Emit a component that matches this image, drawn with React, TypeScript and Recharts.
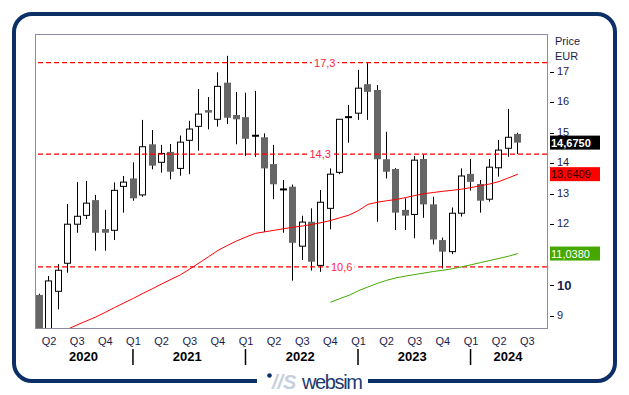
import { ComposedChart, Bar, Line, XAxis, YAxis, ReferenceLine } from "recharts";

// monthly candles, Mar 2020 - Jun 2024
const months = [
  "2020-03", "2020-04", "2020-05", "2020-06", "2020-07", "2020-08", "2020-09", "2020-10", "2020-11", "2020-12",
  "2021-01", "2021-02", "2021-03", "2021-04", "2021-05", "2021-06", "2021-07", "2021-08", "2021-09", "2021-10", "2021-11", "2021-12",
  "2022-01", "2022-02", "2022-03", "2022-04", "2022-05", "2022-06", "2022-07", "2022-08", "2022-09", "2022-10", "2022-11", "2022-12",
  "2023-01", "2023-02", "2023-03", "2023-04", "2023-05", "2023-06", "2023-07", "2023-08", "2023-09", "2023-10", "2023-11", "2023-12",
  "2024-01", "2024-02", "2024-03", "2024-04", "2024-05", "2024-06",
];
// empty month kept on the axis for the Q3 label
const futureMonths = ["2024-07"];

const opens = [
  9.68, 8.45, 9.8, 10.72, 12.0, 12.29, 12.79, 11.84, 11.8, 13.24,
  13.5, 12.96, 14.62, 14.03, 14.37, 13.83, 14.75, 15.21, 15.74, 15.44, 16.64, 15.58,
  15.51, 14.9, 14.85, 13.97, 13.14, 13.23, 11.28, 12.08, 10.65, 12.52, 13.7, 15.51,
  15.64, 16.59, 16.4, 14.13, 13.81, 12.47, 12.32, 14.14, 12.65, 11.48, 11.1, 12.36,
  13.65, 13.32, 12.82, 13.85, 14.49, 14.96,
];
const highs = [
  9.72, 10.3, 10.69, 12.66, 13.38, 13.42, 12.96, 12.47, 13.37, 13.58,
  14.03, 15.42, 15.09, 14.6, 14.63, 14.91, 15.39, 16.43, 16.17, 16.98, 17.52, 16.34,
  16.31, 16.37, 14.98, 14.6, 13.45, 13.3, 12.28, 12.52, 13.12, 13.83, 15.45, 15.91,
  17.06, 17.28, 16.56, 15.03, 13.84, 12.85, 14.24, 14.29, 12.9, 11.56, 12.55, 13.83,
  14.14, 13.45, 14.14, 14.76, 15.78, 15.0,
];
const lows = [
  8.0, 8.1, 9.21, 10.41, 11.72, 12.17, 11.13, 11.13, 11.48, 12.38,
  12.77, 12.9, 13.8, 13.69, 13.47, 13.59, 13.64, 14.41, 15.11, 15.2, 15.28, 14.62,
  14.24, 14.21, 11.75, 12.82, 11.72, 10.15, 10.83, 10.48, 10.44, 11.83, 13.64, 14.67,
  15.42, 15.42, 12.08, 13.5, 11.81, 11.81, 11.54, 12.21, 11.34, 10.55, 11.02, 12.25,
  13.1, 12.38, 12.74, 13.56, 14.21, 14.3,
];
const closes = [
  8.35, 10.14, 10.49, 12.0, 12.26, 12.69, 11.72, 11.72, 13.11, 13.38,
  12.85, 14.54, 13.92, 14.32, 13.72, 14.69, 15.12, 15.61, 15.66, 16.52, 15.49, 15.44,
  14.8, 14.9, 13.83, 13.31, 13.14, 11.39, 12.07, 10.77, 12.72, 13.64, 15.44, 15.51,
  16.46, 16.34, 14.13, 13.72, 12.38, 12.28, 14.1, 12.65, 11.5, 11.1, 12.36, 13.58,
  13.39, 12.77, 13.87, 14.43, 14.85, 14.675,
];

// moving averages
const maShort = [
  null, null, null, 8.56, 8.7, 8.83, 8.96, 9.11, 9.27, 9.42,
  9.57, 9.73, 9.88, 10.04, 10.19, 10.34, 10.53, 10.73, 10.93, 11.14, 11.3, 11.45,
  11.58, 11.7, 11.75, 11.8, 11.85, 11.9, 11.94, 11.99, 12.05, 12.12, 12.21, 12.3,
  12.45, 12.65, 12.72, 12.77, 12.81, 12.87, 12.94, 13.0, 13.04, 13.08, 13.11, 13.15,
  13.2, 13.26, 13.32, 13.4, 13.52, 13.64,
];
const maLong = [
  null, null, null, null, null, null, null, null, null, null,
  null, null, null, null, null, null, null, null, null, null, null, null,
  null, null, null, null, null, null, null, null, null, 9.44, 9.56, 9.67,
  9.82, 9.94, 10.06, 10.16, 10.24, 10.3, 10.35, 10.4, 10.45, 10.49, 10.54, 10.6,
  10.67, 10.74, 10.81, 10.88, 10.95, 11.04,
];

// 11 sits under the green value box in the original
const priceTicks = [9, 10, 12, 13, 14, 15, 16, 17];
const levels = [17.3, 14.3, 10.6];
const lastValues = [14.675, 13.6409, 11.038];

const yearLabels = [
  { year: "2020", at: "2020-08" },
  { year: "2021", at: "2021-07" },
  { year: "2022", at: "2022-07" },
  { year: "2023", at: "2023-07" },
  { year: "2024", at: "2024-05" },
];

const data = [...months, ...futureMonths].map((m, i) => {
  const has = i < opens.length;
  return {
    month: m,
    open: has ? opens[i] : null,
    high: has ? highs[i] : null,
    low: has ? lows[i] : null,
    close: has ? closes[i] : null,
    range: has ? [lows[i], highs[i]] : null,
    maShort: has ? maShort[i] : null,
    maLong: has ? maLong[i] : null,
  };
});

const FONT = "'Liberation Sans', Arial, sans-serif";
const NAVY = "#0b2f66";
const TXT = "#1c1c4c";
const comma = (v: number, d: number) => v.toFixed(d).replace(".", ",");

// shifts for year labels so they sit in the middle of the visible year
const yearShift: Record<string, number> = { "2020": -3, "2021": -2.5, "2022": -2, "2023": -2.5, "2024": -0.5 };
const levelAt = [0.566, 0.557, 0.599];
const badgeStyle = [
  { bg: "#000000", fg: "#ffffff", bold: true },
  { bg: "#ff0000", fg: "#2a0000", bold: false },
  { bg: "#44a800", fg: "#ffffff", bold: false },
];

function Candle(props: any) {
  const { x, y, width, height, payload } = props;
  if (!payload || payload.open == null) return null;
  const { open, close, high, low } = payload;
  const py = (v: number) => y + ((high - v) / (high - low)) * height;
  const cx = Math.floor(x + width / 2) + 0.5;
  const top = py(Math.max(open, close));
  const bot = py(Math.min(open, close));
  const bx = Math.round(x) + 0.5;
  const bw = Math.round(width) - 1;
  let body;
  if (open === close) {
    body = <rect x={bx - 0.5} y={top - 1} width={bw + 1} height={2} fill="#000" />;
  } else if (close > open) {
    body = <rect x={bx} y={top} width={bw} height={Math.max(bot - top, 1)} fill="#fff" stroke="#000" strokeWidth={1} />;
  } else {
    body = <rect x={bx - 0.5} y={top} width={bw + 1} height={Math.max(bot - top, 1)} fill="#666666" />;
  }
  return (
    <g>
      <line x1={cx} x2={cx} y1={y} y2={y + height} stroke="#000" strokeWidth={1} />
      {body}
    </g>
  );
}

function MonthTick(props: any) {
  const { x, y, payload } = props;
  const value: string = payload.value;
  const m = Number(value.slice(5, 7));
  const q = m % 3 === 1 ? `Q${(m + 2) / 3}` : null;
  const yl = yearLabels.find((l) => l.at === value);
  return (
    <g>
      {q && (
        <text x={x} y={y + 16.5} textAnchor="middle" fontSize={11} fill={TXT} fontFamily={FONT}>
          {q}
        </text>
      )}
      {m === 1 && <line x1={x - 0.5} x2={x - 0.5} y1={y + 21} y2={y + 37} stroke="#000" strokeWidth={1.5} />}
      {yl && (
        <text x={x + yearShift[yl.year]} y={y + 33} textAnchor="middle" fontSize={13} fontWeight={700} fill="#000" fontFamily={FONT}>
          {yl.year}
        </text>
      )}
    </g>
  );
}

function PriceTick(props: any) {
  const { x, y, payload } = props;
  const v = payload.value;
  const major = v === 10;
  return (
    <g>
      <line x1={x + 3} x2={x + 7} y1={Math.round(y) + 0.5} y2={Math.round(y) + 0.5} stroke="#000" />
      <text x={x + 10} y={y + (major ? 5 : 3)} fontSize={major ? 13 : 11} fontWeight={major ? 700 : 400} fill={TXT} fontFamily={FONT}>
        {v}
      </text>
    </g>
  );
}

function LevelLabel(props: any) {
  const { viewBox, text, at } = props;
  const cx = viewBox.x + viewBox.width * at;
  const cy = viewBox.y;
  return (
    <g>
      <rect x={cx - 13} y={cy - 5} width={26} height={10} fill="#fff" />
      <text x={cx} y={cy + 4} textAnchor="middle" fontSize={11} fill="#ff2244" fontFamily={FONT}>
        {text}
      </text>
    </g>
  );
}

function Badge(props: any) {
  const { viewBox, text, bg, fg, bold } = props;
  const x = viewBox.x + viewBox.width + 3;
  const y = viewBox.y;
  return (
    <g>
      <rect x={x} y={y - 7} width={50} height={14} fill={bg} />
      <text x={x + 1} y={y + 4} fontSize={11} fontWeight={bold ? 700 : 400} fill={fg} fontFamily={FONT}>
        {text}
      </text>
    </g>
  );
}

export default function App() {
  return (
    <div style={{ position: "absolute", left: 0, top: 0, width: 629, height: 395, background: "#fff", overflow: "hidden" }}>
      <div
        style={{
          position: "absolute", left: 12, top: 12, width: 605, height: 371,
          border: `4px solid ${NAVY}`, borderRadius: 20, boxSizing: "border-box",
        }}
      />
      <div
        style={{
          position: "absolute", left: 35, top: 34, width: 513, height: 295,
          border: "1px solid #8a8aa0", boxSizing: "border-box",
        }}
      />
      <div style={{ position: "absolute", left: 555, top: 34, fontSize: 11, color: TXT, fontFamily: FONT, lineHeight: "15px" }}>
        <div>Price</div>
        <div>EUR</div>
      </div>
      <div style={{ position: "absolute", left: 0, top: 0 }}>
        <ComposedChart width={629} height={395} data={data} margin={{ top: 34, right: 22, bottom: 27, left: 35 }}>
          <XAxis
            dataKey="month"
            height={40}
            padding={{ left: 0, right: 15 }}
            interval={0}
            tickSize={0}
            tickMargin={0}
            axisLine={false}
            tickLine={false}
            tick={<MonthTick />}
          />
          <YAxis
            orientation="right"
            width={60}
            domain={[8.597, 18.236]}
            allowDataOverflow
            ticks={priceTicks}
            tickSize={0}
            tickMargin={0}
            axisLine={false}
            tickLine={false}
            tick={<PriceTick />}
          />
          {levels.map((v, i) => (
            <ReferenceLine
              key={v}
              y={v}
              stroke="#ff0000"
              strokeWidth={1.2}
              strokeDasharray="5 3"
              label={<LevelLabel text={comma(v, 1)} at={levelAt[i]} />}
            />
          ))}
          <Line type="linear" dataKey="maShort" stroke="#ff0000" strokeWidth={1} dot={false} isAnimationActive={false} />
          <Line type="linear" dataKey="maLong" stroke="#44a800" strokeWidth={1} dot={false} isAnimationActive={false} />
          <Bar dataKey="range" barSize={7} shape={<Candle />} isAnimationActive={false} />
          {lastValues.map((v, i) => (
            <ReferenceLine
              key={"b" + v}
              y={v}
              stroke="none"
              zIndex={2000}
              label={<Badge text={comma(v, 4)} {...badgeStyle[i]} />}
            />
          ))}
        </ComposedChart>
      </div>
      <div style={{ position: "absolute", left: 257, top: 370, width: 111, height: 22, background: "#fff" }}>
        <svg width={111} height={22}>
          <circle cx={12.5} cy={5.5} r={2.3} fill={NAVY} />
          <text x={15} y={19} fontSize={20} fontStyle="italic" fontWeight={700} fill="#c6d0dc" fontFamily={FONT}>
            //S
          </text>
          <text x={45} y={19} fontSize={20} fill="#1a3a70" fontFamily={FONT} textLength={61}>
            websim
          </text>
        </svg>
      </div>
    </div>
  );
}
